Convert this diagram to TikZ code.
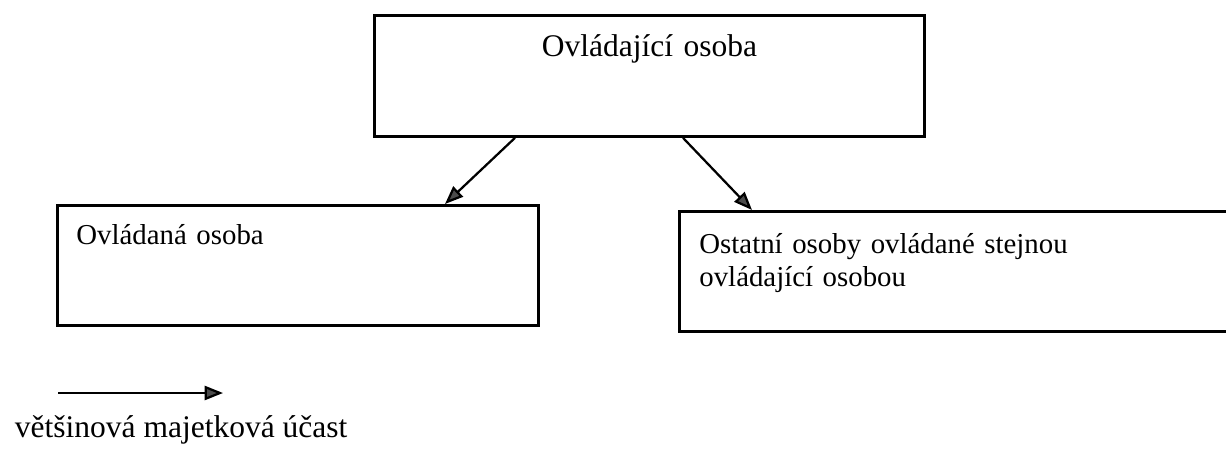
\documentclass[tikz,border=0pt]{standalone}
\usepackage{fontspec}
\setmainfont{Liberation Serif}
\usetikzlibrary{calc,positioning,arrows.meta}
\tikzset{
  osoba/.style={draw,rectangle,line width=2pt,inner ysep=0pt,anchor=north west,
                font=\fontsize{22.4pt}{23.5pt}\selectfont},
  mensi/.style={font=\fontsize{20.5pt}{23.5pt}\selectfont},
  sipka/.style={line width=1.6pt,-{Triangle[length=13pt,width=10pt,fill=black!70]}}
}

\begin{document}
\begin{tikzpicture}[x=0.025cm,y=-0.025cm]
\useasboundingbox (0,0) rectangle (1226,450);
\node[osoba,inner xsep=0pt,text width=13.75cm,align=center,text height=1.025cm,text depth=2.0cm] (ovladajici) at (373,14) {Ovládající osoba};
\node[osoba,mensi,inner xsep=0.475cm,text width=11.075cm,align=left,text height=0.975cm,text depth=2.025cm] (ovladana) at (56,204) {Ovládaná osoba};
\node[osoba,mensi,inner xsep=0.5cm,text width=13.3cm,align=left,text height=1.05cm,text depth=1.95cm] (ostatni) at (678,210) {Ostatní osoby ovládané stejnou\\ovládající osobou};
% sipky od ovladajici osoby
\draw[sipka] ($(ovladajici.south west)+(142,0)$) -- ($(ovladana.north west)+(389,0)$);
\draw[sipka] ($(ovladajici.south west)+(310,0)$) -- ($(ostatni.north west)+(74,0)$);
% legenda
\node[anchor=base west,font=\fontsize{22.4pt}{23.5pt}\selectfont] (legenda) at (10,437) {většinová majetková účast};
\coordinate (legA) at (58,393);
\coordinate (legB) at (223,393);
\draw[sipka] (legA) -- (legB);
\end{tikzpicture}
\end{document}
